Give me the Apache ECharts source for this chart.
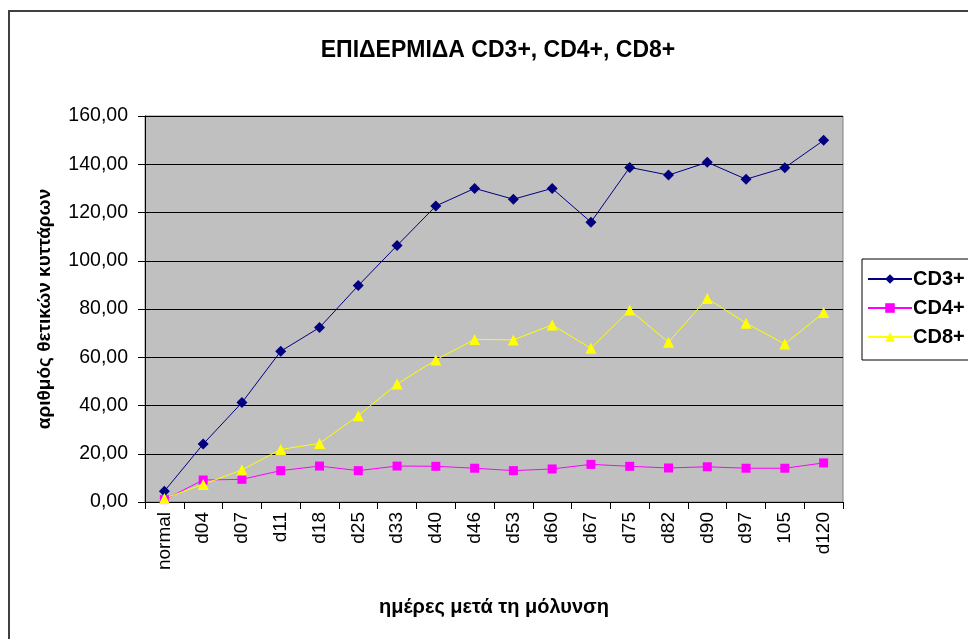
<!DOCTYPE html>
<html>
<head>
<meta charset="utf-8">
<script src="https://cdn.jsdelivr.net/npm/echarts@6/dist/echarts.min.js"></script>
<style>html,body{margin:0;padding:0;background:#fff}#c{width:968px;height:639px}</style>
</head>
<body>
<div id="c"></div>
<script>
const categories = ['normal','d04','d07','d11','d18','d25','d33','d40','d46','d53','d60','d67','d75','d82','d90','d97','105','d120'];
const cd3 = [4.5, 24, 41.2, 62.5, 72.3, 89.7, 106.3, 122.7, 130, 125.5, 130, 116, 138.7, 135.5, 140.8, 133.8, 138.6, 149.9];
const cd4 = [1, 9.1, 9.4, 13, 14.9, 13, 14.9, 14.8, 14, 13, 13.7, 15.6, 14.8, 14.1, 14.6, 14, 14, 16.2];
const cd8 = [1.5, 7.3, 13.3, 21.8, 24.3, 35.8, 48.9, 58.9, 67.4, 67.2, 73.4, 63.7, 79.6, 66.2, 84.4, 74.1, 65.5, 78.5];
const yTicks = {min: 0, max: 160, interval: 20};

const FONT = 'Liberation Sans, Arial, sans-serif';
const chart = echarts.init(document.getElementById('c'));
chart.setOption({
  animation: false,
  backgroundColor: '#fff',
  graphic: [{
    type: 'rect', z: -10,
    shape: {x: 9, y: 11, width: 1000, height: 700},
    style: {fill: 'none', stroke: '#404040', lineWidth: 2}
  }],
  title: {
    text: 'ΕΠΙΔΕΡΜΙΔΑ CD3+, CD4+, CD8+',
    left: 493, textAlign: 'center', top: 34,
    textStyle: {fontFamily: FONT, fontSize: 23, fontWeight: 'bold', color: '#000'}
  },
  legend: {
    left: 862, top: 259, orient: 'vertical',
    backgroundColor: '#fff', borderColor: '#000', borderWidth: 1,
    padding: [10, 40, 13, 5], itemWidth: 44, itemHeight: 12, itemGap: 9,
    textStyle: {fontFamily: FONT, fontSize: 20, fontWeight: 'bold', color: '#000', padding: [0,0,0,-4]},
    data: ['CD3+', 'CD4+', 'CD8+']
  },
  grid: {
    left: 145, right: 125, top: 116, bottom: 137,
    show: true, backgroundColor: '#C0C0C0', borderColor: '#808080', borderWidth: 1
  },
  xAxis: {
    type: 'category', data: categories, boundaryGap: true,
    name: 'ημέρες μετά τη μόλυνση', nameLocation: 'middle', nameGap: 95,
    nameTextStyle: {fontFamily: FONT, fontSize: 20, fontWeight: 'bold', color: '#000'},
    axisLine: {lineStyle: {color: '#000', width: 1}},
    axisTick: {show: true, length: 7, interval: 0, lineStyle: {color: '#000'}},
    axisLabel: {rotate: 90, interval: 0, margin: 10, fontFamily: FONT, fontSize: 19, color: '#000'},
    splitLine: {show: false}
  },
  yAxis: {
    type: 'value', min: yTicks.min, max: yTicks.max, interval: yTicks.interval,
    name: 'αριθμός θετικών κυττάρων', nameLocation: 'middle', nameGap: 91, nameRotate: 90,
    nameTextStyle: {fontFamily: FONT, fontSize: 19, fontWeight: 'bold', color: '#000'},
    axisLine: {show: true, lineStyle: {color: '#000', width: 1}},
    axisTick: {show: true, length: 7, lineStyle: {color: '#000'}},
    axisLabel: {margin: 17, fontFamily: FONT, fontSize: 19.5, color: '#000',
      formatter: v => v.toFixed(2).replace('.', ',')},
    splitLine: {show: true, lineStyle: {color: '#000', width: 1}}
  },
  series: [
    {name: 'CD3+', type: 'line', data: cd3, symbol: 'diamond', symbolSize: 11,
      lineStyle: {color: '#000080', width: 1}, itemStyle: {color: '#000080'}},
    {name: 'CD4+', type: 'line', data: cd4, symbol: 'rect', symbolSize: 9,
      lineStyle: {color: '#FF00FF', width: 1}, itemStyle: {color: '#FF00FF'}},
    {name: 'CD8+', type: 'line', data: cd8, symbol: 'triangle', symbolSize: 11,
      lineStyle: {color: '#FFFF00', width: 1}, itemStyle: {color: '#FFFF00'}}
  ]
});
</script>
</body>
</html>
